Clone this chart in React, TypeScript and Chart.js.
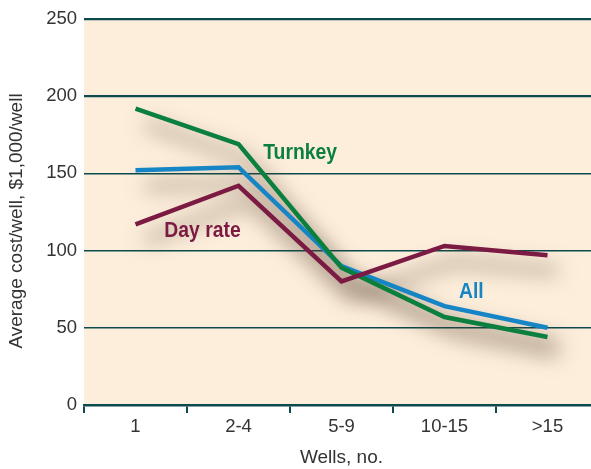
import React, { useEffect, useRef } from "react";
import { Chart, registerables } from "chart.js";

Chart.register(...registerables);

const categories = ["1", "2-4", "5-9", "10-15", ">15"];
const turnkey = [192, 169, 89, 57, 44];
const allWells = [152, 154, 90, 64, 50];
const dayRate = [117, 142, 80, 103, 97];
const yTicks = [0, 50, 100, 150, 200, 250];
const yTitle = "Average cost/well, $1,000/well";
const xTitle = "Wells, no.";

const TEAL = "#0b4b4d";
const GREEN = "#0b7f3e";
const BLUE = "#1685c6";
const MAROON = "#7b1a42";
const PEACH = "#fdeedc";
const TEXT = "#333";

// in-chart series labels: [text, category position, value, colour]
const seriesLabels: [string, number, number, string][] = [
  ["Turnkey", 1.24, 163, GREEN],
  ["Day rate", 0.28, 113, MAROON],
  ["All", 3.14, 73, BLUE],
];

const plotBackground = {
  id: "plotBackground",
  beforeDraw(chart: any) {
    const { ctx, chartArea } = chart;
    ctx.save();
    ctx.fillStyle = PEACH;
    ctx.fillRect(chartArea.left, chartArea.top, chart.width - chartArea.left, chartArea.bottom - chartArea.top);
    ctx.restore();
  },
};

// soft drop shadow drawn beneath all the lines
const lineShadow = {
  id: "lineShadow",
  beforeDatasetsDraw(chart: any) {
    const { ctx } = chart;
    const shift = 10000;
    ctx.save();
    ctx.shadowColor = "rgba(85, 65, 45, 0.5)";
    ctx.shadowBlur = 20;
    ctx.shadowOffsetX = shift + 10;
    ctx.shadowOffsetY = 16;
    ctx.strokeStyle = "#000";
    ctx.lineWidth = 8;
    ctx.lineJoin = "round";
    chart.getSortedVisibleDatasetMetas().forEach((meta: any) => {
      ctx.beginPath();
      meta.data.forEach((p: any, i: number) => {
        if (i === 0) ctx.moveTo(p.x - shift, p.y);
        else ctx.lineTo(p.x - shift, p.y);
      });
      ctx.stroke();
    });
    ctx.restore();
  },
};

// condensed bold series names placed next to their lines
const seriesText = {
  id: "seriesText",
  afterDatasetsDraw(chart: any) {
    const { ctx, scales } = chart;
    ctx.save();
    ctx.font = 'bold 22px "Liberation Sans", Arial, sans-serif';
    ctx.textAlign = "left";
    ctx.textBaseline = "middle";
    seriesLabels.forEach(([text, xi, yv, color]) => {
      const x = scales.x.getPixelForValue(xi);
      const y = scales.y.getPixelForValue(yv);
      ctx.save();
      ctx.translate(x, y);
      ctx.scale(0.88, 1);
      ctx.fillStyle = color;
      ctx.fillText(text, 0, 0);
      ctx.restore();
    });
    ctx.restore();
  },
};

// rotated y-axis title, centred on the text block beside the value axis
const yAxisTitle = {
  id: "yAxisTitle",
  afterDraw(chart: any) {
    const { ctx, chartArea } = chart;
    ctx.save();
    ctx.font = '19px "Liberation Sans", Arial, sans-serif';
    ctx.fillStyle = TEXT;
    ctx.textAlign = "center";
    ctx.textBaseline = "middle";
    ctx.translate(17, (chartArea.top + chartArea.bottom) / 2 + 9);
    ctx.rotate(-Math.PI / 2);
    ctx.fillText(yTitle, 0, 0);
    ctx.restore();
  },
};

export default function App() {
  const canvasRef = useRef<HTMLCanvasElement>(null);

  useEffect(() => {
    const canvas = canvasRef.current;
    if (!canvas) return;
    const tickFont = { family: '"Liberation Sans", Arial, sans-serif', size: 18.5 };
    const titleFont = { family: '"Liberation Sans", Arial, sans-serif', size: 19 };
    const line = (label: string, data: number[], color: string) => ({
      label,
      data,
      borderColor: color,
      borderWidth: 4.5,
      borderJoinStyle: "miter" as const,
      borderCapStyle: "butt" as const,
      pointRadius: 0,
      tension: 0,
      fill: false,
    });
    const chart = new Chart(canvas, {
      type: "line",
      data: {
        labels: categories,
        datasets: [
          line("Day rate", dayRate, MAROON),
          line("Turnkey", turnkey, GREEN),
          line("All", allWells, BLUE),
        ],
      },
      options: {
        responsive: false,
        animation: false,
        devicePixelRatio: 1,
        layout: { padding: { top: 19, right: 21, left: 0, bottom: 0 } },
        plugins: { legend: { display: false }, tooltip: { enabled: false } },
        scales: {
          x: {
            type: "category",
            offset: true,
            afterFit(scale: any) {
              scale.height = 64;
            },
            grid: {
              offset: true,
              drawOnChartArea: false,
              drawTicks: true,
              tickLength: 8,
              color: TEAL,
              lineWidth: 2,
            },
            border: { display: true, color: TEAL, width: 2.5 },
            ticks: { color: TEXT, font: tickFont, padding: 3 },
            title: {
              display: true,
              text: xTitle,
              color: TEXT,
              font: titleFont,
              padding: { top: 0, bottom: 0 },
            },
          },
          y: {
            min: 0,
            max: 250,
            afterFit(scale: any) {
              scale.width = 84;
            },
            afterBuildTicks(scale: any) {
              scale.ticks = yTicks.map((v) => ({ value: v }));
            },
            grid: {
              drawTicks: false,
              color: TEAL,
              lineWidth: (ctx: any) => (ctx.tick && ctx.tick.value >= 200 ? 2.2 : 1.6),
            },
            border: { display: false },
            ticks: { color: TEXT, font: tickFont, padding: 7 },
            title: { display: false },
          },
        },
      },
      plugins: [plotBackground, lineShadow, seriesText, yAxisTitle],
    });
    return () => chart.destroy();
  }, []);

  return (
    <div
      style={{
        position: "absolute",
        left: 0,
        top: 0,
        width: 591,
        height: 469,
        overflow: "hidden",
        background: "#fff",
      }}
    >
      <canvas ref={canvasRef} width={620} height={469} style={{ display: "block" }} />
    </div>
  );
}
